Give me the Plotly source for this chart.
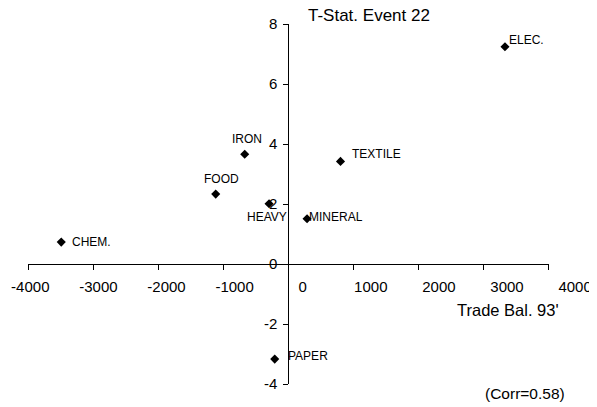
import plotly.graph_objects as go

# ---- data ----
industries = ["ELEC.", "TEXTILE", "IRON", "FOOD", "CHEM.", "HEAVY", "MINERAL", "PAPER"]
trade_bal_93 = [3331, 803, -669, -1115, -3489, -295, 289, -208]
t_stat_event22 = [7.24, 3.42, 3.66, 2.33, 0.73, 2.01, 1.51, -3.17]

x_tick_vals = [-4000, -3000, -2000, -1000, 0, 1000, 2000, 3000, 4000]
x_tick_labels = ["-4000", "-3000", "-2000", "-1000", "0", "1000", "2000", "3000", "4000"]
y_tick_vals = [-4, -2, 0, 2, 4, 6, 8]
y_tick_labels = ["-4", "-2", "0", "2", "4", "6", "8"]

title_text = "T-Stat. Event 22"
x_title = "Trade Bal. 93'"
corr_text = "(Corr=0.58)"

# ---- styling / layout ----
FONT = "Arial, Liberation Sans, sans-serif"
PAGE_W, PAGE_H = 597, 407
OFF = 8                      # default page body margin
W, H = PAGE_W - OFF, PAGE_H - OFF
# plot area in page pixels
P_L, P_R, P_T, P_B = 28, 587, 24, 384
ML, MR, MT, MB = P_L - OFF, PAGE_W - P_R, P_T - OFF, PAGE_H - P_B
PW = P_R - P_L
PH = P_B - P_T
x_axis_end_px = 548.5
x_dom_end = (x_axis_end_px - P_L) / PW
x_range = [-4000, 4000]
y_range = [-4, 8]

# label scale for x tick labels (labels drift slightly from ticks in the original)
lab0_px, lab_step = 302.7, 0.0681
x2_range = [(P_L - lab0_px) / lab_step, (P_R - lab0_px) / lab_step]

# per-label placement: (xanchor, xshift, yshift)
label_style = {
    "ELEC.": ("left", 4, 7),
    "TEXTILE": ("left", 11, 7),
    "IRON": ("center", 2, 15),
    "FOOD": ("center", 6, 15),
    "CHEM.": ("left", 11, 0),
    "HEAVY": ("right", 18, -13),
    "MINERAL": ("left", 2, 2),
    "PAPER": ("left", 13, 3),
}

fig = go.Figure()
fig.add_trace(go.Scatter(
    x=trade_bal_93, y=t_stat_event22, mode="markers",
    marker=dict(symbol="diamond", size=7, color="black"),
    showlegend=False, hoverinfo="skip", xaxis="x", yaxis="y",
))
# empty trace so the label axis is created
fig.add_trace(go.Scatter(x=[None], y=[None], mode="markers", xaxis="x2", yaxis="y",
                         showlegend=False, hoverinfo="skip"))

annotations = []
for name, xv, yv in zip(industries, trade_bal_93, t_stat_event22):
    xa, xs, ys = label_style[name]
    annotations.append(dict(
        x=xv, y=yv, xref="x", yref="y", text=name, showarrow=False,
        xanchor=xa, yanchor="middle", xshift=xs, yshift=ys,
        font=dict(family=FONT, size=12, color="black"),
        borderpad=0, borderwidth=0,
    ))

def fx(px):
    return (px - P_L) / PW

def fy(py):
    return (P_B - py) / PH

annotations.append(dict(x=fx(307), y=fy(15), xref="paper", yref="paper", text=title_text,
                        showarrow=False, xanchor="left", yanchor="middle",
                        font=dict(family=FONT, size=17, color="black"), borderpad=0))
annotations.append(dict(x=fx(559.5), y=fy(310), xref="paper", yref="paper", text=x_title,
                        showarrow=False, xanchor="right", yanchor="middle",
                        font=dict(family=FONT, size=16.5, color="black"), borderpad=0))
annotations.append(dict(x=fx(566), y=fy(394), xref="paper", yref="paper", text=corr_text,
                        showarrow=False, xanchor="right", yanchor="middle",
                        font=dict(family=FONT, size=15.5, color="black"), borderpad=0))

y_zero_frac = (0 - y_range[0]) / (y_range[1] - y_range[0])
x_zero_frac = x_dom_end * (0 - x_range[0]) / (x_range[1] - x_range[0])

fig.update_layout(
    width=W, height=H,
    margin=dict(l=ML, r=MR, t=MT, b=MB, pad=0, autoexpand=False),
    paper_bgcolor="white", plot_bgcolor="rgba(0,0,0,0)",
    font=dict(family=FONT, size=15, color="black"),
    annotations=annotations,
    xaxis=dict(
        domain=[0, x_dom_end], range=x_range, anchor="free", position=y_zero_frac,
        showgrid=False, zeroline=False, showline=True, linecolor="black", linewidth=1,
        ticks="outside", ticklen=5, tickcolor="black", tickwidth=1, automargin=False,
        tickvals=x_tick_vals, showticklabels=False, fixedrange=True,
    ),
    xaxis2=dict(
        domain=[0, 1], range=x2_range, anchor="free", position=y_zero_frac,
        showgrid=False, zeroline=False, showline=False, automargin=False,
        ticks="outside", ticklen=5, tickcolor="rgba(0,0,0,0)", ticklabelstandoff=4,
        tickvals=x_tick_vals, ticktext=x_tick_labels, showticklabels=True,
        tickfont=dict(family=FONT, size=15, color="black"), fixedrange=True,
    ),
    yaxis=dict(
        domain=[0, 1], range=y_range, anchor="free", position=x_zero_frac,
        showgrid=False, zeroline=False, showline=True, linecolor="black", linewidth=1,
        ticks="outside", ticklen=5, tickcolor="black", tickwidth=1, automargin=False,
        ticklabelstandoff=3,
        tickvals=y_tick_vals, ticktext=y_tick_labels,
        tickfont=dict(family=FONT, size=15, color="black"), fixedrange=True,
    ),
)

fig.write_html("out.html")
